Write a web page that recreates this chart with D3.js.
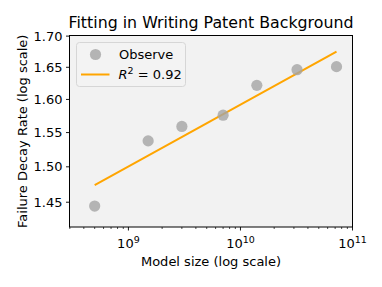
<!DOCTYPE html>
<html>
<head>
<meta charset="utf-8">
<script src="https://cdn.jsdelivr.net/npm/d3@7"></script>
<style>
  body { margin: 0; background: #fff; }
  text { font-family: "DejaVu Sans", sans-serif; fill: #000; }
</style>
</head>
<body>
<div id="chart"></div>
<script>
var modelSizes = [0.5e9, 1.5e9, 3e9, 7e9, 14e9, 32e9, 72e9];
var decayRates = [1.4447, 1.5377, 1.5591, 1.576, 1.6217, 1.6462, 1.651];
var fitSizes = [0.5e9, 72e9];
var fitRates = [1.474, 1.675];
var yTicks = [1.45, 1.50, 1.55, 1.60, 1.65, 1.70];
var xTicks = [1e9, 1e10, 1e11];
var xExp = ["9", "10", "11"];

var W = 382, H = 287;
var margin = {left: 69.5, right: 29.5, top: 35.5, bottom: 60};
var iw = W - margin.left - margin.right;
var ih = H - margin.top - margin.bottom;

var svg = d3.select("#chart").append("svg")
    .attr("width", W)
    .attr("height", H);

var g = svg.append("g")
    .attr("transform", "translate(" + margin.left + "," + margin.top + ")");

var x = d3.scaleLog().domain([2.98e8, 1e11]).range([0, iw]);
var y = d3.scaleLog().domain([1.416, 1.701]).range([ih, 0]);

g.append("rect")
    .attr("width", iw)
    .attr("height", ih)
    .style("fill", "#f2f2f2");

// fit line
var line = d3.line()
    .x(function(d) { return x(d[0]); })
    .y(function(d) { return y(d[1]); });

g.append("path")
    .datum(d3.zip(fitSizes, fitRates))
    .attr("d", line)
    .style("fill", "none")
    .style("stroke", "#ffa500")
    .style("stroke-width", 2);

g.selectAll(".pt")
    .data(d3.zip(modelSizes, decayRates))
    .enter().append("circle")
    .attr("class", "pt")
    .attr("cx", function(d) { return x(d[0]); })
    .attr("cy", function(d) { return y(d[1]); })
    .attr("r", 5.6)
    .style("fill", "#a4a4a4")
    .style("fill-opacity", 0.8);

// frame
g.append("rect")
    .attr("width", iw)
    .attr("height", ih)
    .style("fill", "none")
    .style("stroke", "#000")
    .style("stroke-width", 1);

// x axis ticks
var minor = [];
for (var e = 8; e < 11; e++) {
    for (var k = 2; k < 10; k++) {
        var v = k * Math.pow(10, e);
        if (v >= x.domain()[0] && v <= x.domain()[1]) minor.push(v);
    }
}
var xa = g.append("g").attr("transform", "translate(0," + ih + ")");
xa.selectAll(".minor").data(minor).enter().append("line")
    .attr("x1", function(d) { return x(d); })
    .attr("x2", function(d) { return x(d); })
    .attr("y2", 2)
    .style("stroke", "#000").style("stroke-width", 0.7);
xa.selectAll(".major").data(xTicks).enter().append("line")
    .attr("x1", function(d) { return x(d); })
    .attr("x2", function(d) { return x(d); })
    .attr("y2", 3.5)
    .style("stroke", "#000").style("stroke-width", 0.9);
var xl = xa.selectAll(".xl").data(xTicks).enter().append("text")
    .attr("x", function(d) { return x(d); })
    .attr("y", 21)
    .attr("text-anchor", "middle")
    .style("font-size", "13px");
xl.append("tspan").text("10");
xl.append("tspan")
    .attr("dy", -5)
    .style("font-size", "9.5px")
    .text(function(d, i) { return xExp[i]; });

// y axis ticks
var ya = g.append("g");
ya.selectAll("line").data(yTicks).enter().append("line")
    .attr("x1", -3.5)
    .attr("y1", function(d) { return y(d); })
    .attr("y2", function(d) { return y(d); })
    .style("stroke", "#000").style("stroke-width", 0.9);
ya.selectAll("text").data(yTicks).enter().append("text")
    .attr("x", -7)
    .attr("y", function(d) { return y(d); })
    .attr("dy", "0.35em")
    .attr("text-anchor", "end")
    .style("font-size", "13px")
    .text(function(d) { return d.toFixed(2); });

// labels
svg.append("text")
    .attr("x", margin.left + iw / 2)
    .attr("y", 27.5)
    .attr("text-anchor", "middle")
    .style("font-size", "15.8px")
    .text("Fitting in Writing Patent Background");

svg.append("text")
    .attr("x", margin.left + iw / 2)
    .attr("y", 266)
    .attr("text-anchor", "middle")
    .style("font-size", "13px")
    .text("Model size (log scale)");

svg.append("text")
    .attr("transform", "translate(26.5," + (margin.top + ih / 2) + ") rotate(-90)")
    .attr("text-anchor", "middle")
    .style("font-size", "13px")
    .text("Failure Decay Rate (log scale)");

// legend
var leg = svg.append("g").attr("transform", "translate(76.5,42.5)");
leg.append("rect")
    .attr("width", 109)
    .attr("height", 44)
    .attr("rx", 3)
    .style("fill", "#f2f2f2")
    .style("fill-opacity", 0.8)
    .style("stroke", "#d6d6d6");
leg.append("circle")
    .attr("cx", 19)
    .attr("cy", 12)
    .attr("r", 5.6)
    .style("fill", "#a4a4a4")
    .style("fill-opacity", 0.8);
leg.append("text")
    .attr("x", 42.5)
    .attr("y", 16.5)
    .style("font-size", "13px")
    .text("Observe");
leg.append("line")
    .attr("x1", 4.5).attr("x2", 33)
    .attr("y1", 32).attr("y2", 32)
    .style("stroke", "#ffa500")
    .style("stroke-width", 2);
var rt = leg.append("text")
    .attr("x", 42)
    .attr("y", 36.5)
    .style("font-size", "13px");
rt.append("tspan").style("font-style", "italic").text("R");
rt.append("tspan").attr("dy", -5).style("font-size", "9.5px").text("2");
rt.append("tspan").attr("dy", 5).text(" = 0.92");
</script>
</body>
</html>
